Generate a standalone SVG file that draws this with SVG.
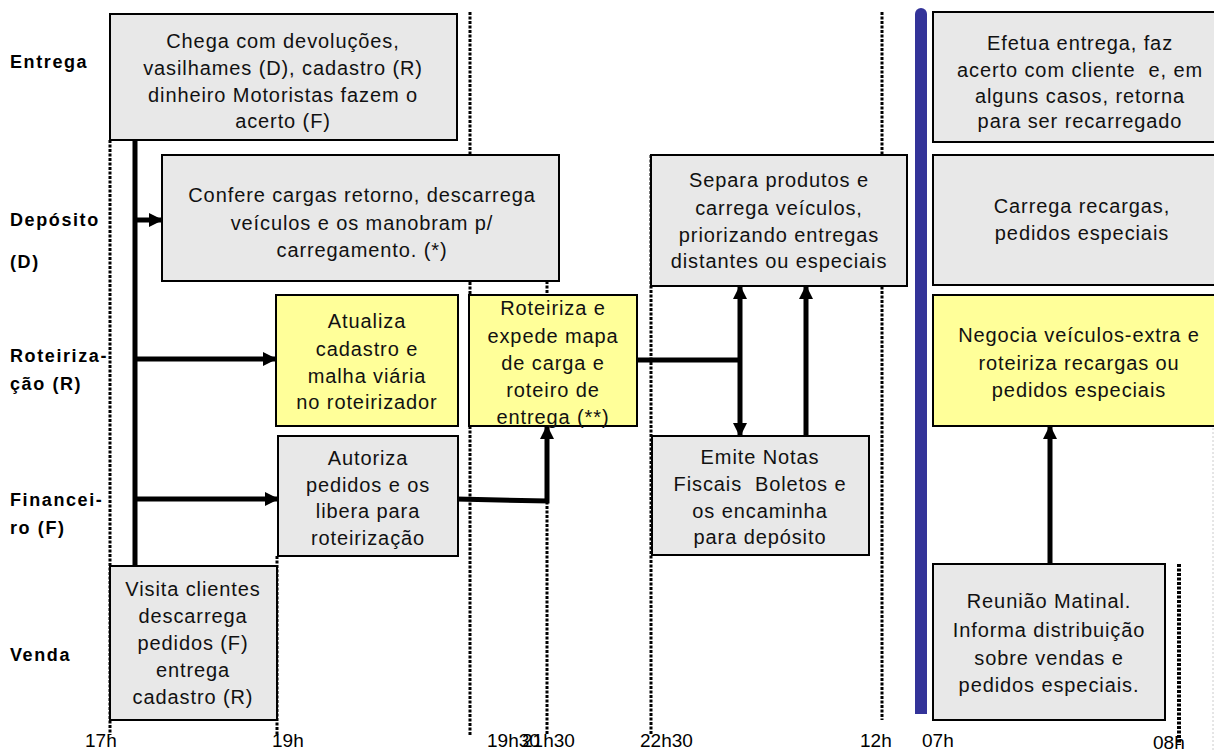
<svg xmlns="http://www.w3.org/2000/svg" width="1214" height="751" viewBox="0 0 1214 751">
<defs>
<style>
.box{stroke:#000;stroke-width:2}
.g{fill:#e8e8e8}
.y{fill:#ffff99}
.t{font-family:"Liberation Sans",Arial,sans-serif;font-size:20px;letter-spacing:0.9px;fill:#111;text-anchor:middle;white-space:pre}
.lab{font-family:"Liberation Sans",Arial,sans-serif;font-size:18px;font-weight:bold;letter-spacing:1.6px;fill:#000}
.ax{font-family:"Liberation Sans",Arial,sans-serif;font-size:19px;fill:#000}
.dot{stroke:#000;stroke-width:3;stroke-dasharray:3 1.5;fill:none}
.c{stroke:#000;stroke-width:5;fill:none}
</style>
<marker id="ah" viewBox="0 0 14 14" refX="13" refY="7" markerWidth="14" markerHeight="14" markerUnits="userSpaceOnUse" orient="auto-start-reverse">
<path d="M0,0 L14,7 L0,14 z" fill="#000"/>
</marker>
</defs>
<rect width="1214" height="751" fill="#fff"/>

<g id="gridlines">
<line class="dot" x1="110" y1="140" x2="110" y2="735"/>
<line class="dot" x1="277" y1="556" x2="277" y2="735"/>
<line class="dot" x1="470" y1="12" x2="470" y2="735"/>
<line class="dot" x1="547" y1="281" x2="547" y2="735"/>
<line class="dot" x1="651" y1="155" x2="651" y2="735"/>
<line class="dot" x1="882" y1="12" x2="882" y2="720"/>
<line stroke="#000" stroke-width="4" stroke-dasharray="3 1.5" x1="1179" y1="564" x2="1179" y2="745"/>
<line stroke="#ccc" stroke-width="1" stroke-dasharray="2 2" x1="1213" y1="300" x2="1213" y2="751"/>
<rect x="915" y="8" width="12" height="706" rx="6" fill="#333399"/>
<rect x="915" y="20" width="12" height="694" fill="#333399"/>
</g>

<g id="lane-labels">
<text class="lab" x="10" y="68">Entrega</text>
<text class="lab" x="10" y="226">Depósito</text>
<text class="lab" x="10" y="268">(D)</text>
<text class="lab" x="10" y="362">Roteiriza-</text>
<text class="lab" x="10" y="390">ção (R)</text>
<text class="lab" x="10" y="506">Financei-</text>
<text class="lab" x="10" y="534">ro (F)</text>
<text class="lab" x="10" y="661">Venda</text>
</g>

<g id="axis">
<text class="ax" x="85" y="747">17h</text>
<text class="ax" x="272" y="747">19h</text>
<text class="ax" x="487" y="747">19h30</text>
<text class="ax" x="522" y="747">21h30</text>
<text class="ax" x="640" y="747">22h30</text>
<text class="ax" x="860" y="747">12h</text>
<text class="ax" x="922" y="747">07h</text>
<text class="ax" x="1153" y="749">08h</text>
</g>

<g id="connectors">
<line class="c" x1="135" y1="140" x2="135" y2="566"/>
<line class="c" x1="133" y1="220" x2="162" y2="220" marker-end="url(#ah)"/>
<line class="c" x1="133" y1="359" x2="276" y2="359" marker-end="url(#ah)"/>
<line class="c" x1="133" y1="499" x2="278" y2="499" marker-end="url(#ah)"/>
<polyline class="c" points="456,499 547,501 547,426" marker-end="url(#ah)"/>
<line class="c" x1="637" y1="360" x2="740" y2="360"/>
<line class="c" x1="740" y1="286" x2="740" y2="436" marker-start="url(#ah)" marker-end="url(#ah)"/>
<line class="c" x1="806" y1="436" x2="806" y2="286" marker-end="url(#ah)"/>
<line class="c" x1="1050" y1="564" x2="1050" y2="426" marker-end="url(#ah)"/>
</g>

<g id="n-entrega">
<rect class="box g" x="110" y="14" width="347" height="126"/>
<text class="t" x="283" y="48">Chega com devoluções,</text>
<text class="t" x="283" y="75">vasilhames (D), cadastro (R)</text>
<text class="t" x="283" y="102">dinheiro Motoristas fazem o</text>
<text class="t" x="283" y="128">acerto (F)</text>
</g>

<g id="n-deposito">
<rect class="box g" x="162" y="155" width="397" height="126"/>
<text class="t" x="362" y="202">Confere cargas retorno, descarrega</text>
<text class="t" x="362" y="230">veículos e os manobram p/</text>
<text class="t" x="362" y="257">carregamento. (*)</text>
</g>

<g id="n-atualiza">
<rect class="box y" x="276" y="295" width="182" height="131"/>
<text class="t" x="367" y="328">Atualiza</text>
<text class="t" x="367" y="356">cadastro e</text>
<text class="t" x="367" y="383">malha viária</text>
<text class="t" x="367" y="409">no roteirizador</text>
</g>

<g id="n-roteiriza">
<rect class="box y" x="469" y="295" width="168" height="131"/>
<text class="t" x="553" y="315">Roteiriza e</text>
<text class="t" x="553" y="343">expede mapa</text>
<text class="t" x="553" y="370">de carga e</text>
<text class="t" x="553" y="397">roteiro de</text>
<text class="t" x="553" y="424">entrega (**)</text>
</g>

<g id="n-autoriza">
<rect class="box g" x="278" y="436" width="180" height="120"/>
<text class="t" x="368" y="465">Autoriza</text>
<text class="t" x="368" y="492">pedidos e os</text>
<text class="t" x="368" y="518">libera para</text>
<text class="t" x="368" y="545">roteirização</text>
</g>

<g id="n-visita">
<rect class="box g" x="110" y="566" width="167" height="154"/>
<text class="t" x="193" y="596">Visita clientes</text>
<text class="t" x="193" y="623">descarrega</text>
<text class="t" x="193" y="650">pedidos (F)</text>
<text class="t" x="193" y="677">entrega</text>
<text class="t" x="193" y="704">cadastro (R)</text>
</g>

<g id="n-separa">
<rect class="box g" x="651" y="155" width="256" height="131"/>
<text class="t" x="779" y="187">Separa produtos e</text>
<text class="t" x="779" y="215">carrega veículos,</text>
<text class="t" x="779" y="242">priorizando entregas</text>
<text class="t" x="779" y="268">distantes ou especiais</text>
</g>

<g id="n-emite">
<rect class="box g" x="652" y="436" width="217" height="119"/>
<text class="t" x="760" y="464">Emite Notas</text>
<text class="t" x="760" y="491">Fiscais  Boletos e</text>
<text class="t" x="760" y="518">os encaminha</text>
<text class="t" x="760" y="544">para depósito</text>
</g>

<g id="n-efetua">
<rect class="box g" x="933" y="12" width="300" height="130"/>
<text class="t" x="1080" y="50">Efetua entrega, faz</text>
<text class="t" x="1080" y="77">acerto com cliente  e, em</text>
<text class="t" x="1080" y="103">alguns casos, retorna</text>
<text class="t" x="1080" y="128">para ser recarregado</text>
</g>

<g id="n-carrega">
<rect class="box g" x="933" y="155" width="300" height="130"/>
<text class="t" x="1082" y="213">Carrega recargas,</text>
<text class="t" x="1082" y="240">pedidos especiais</text>
</g>

<g id="n-negocia">
<rect class="box y" x="933" y="295" width="300" height="131"/>
<text class="t" x="1079" y="342">Negocia veículos-extra e</text>
<text class="t" x="1079" y="370">roteiriza recargas ou</text>
<text class="t" x="1079" y="397">pedidos especiais</text>
</g>

<g id="n-reuniao">
<rect class="box g" x="933" y="564" width="232" height="156"/>
<text class="t" x="1049" y="608">Reunião Matinal.</text>
<text class="t" x="1049" y="637">Informa distribuição</text>
<text class="t" x="1049" y="665">sobre vendas e</text>
<text class="t" x="1049" y="692">pedidos especiais.</text>
</g>
</svg>
